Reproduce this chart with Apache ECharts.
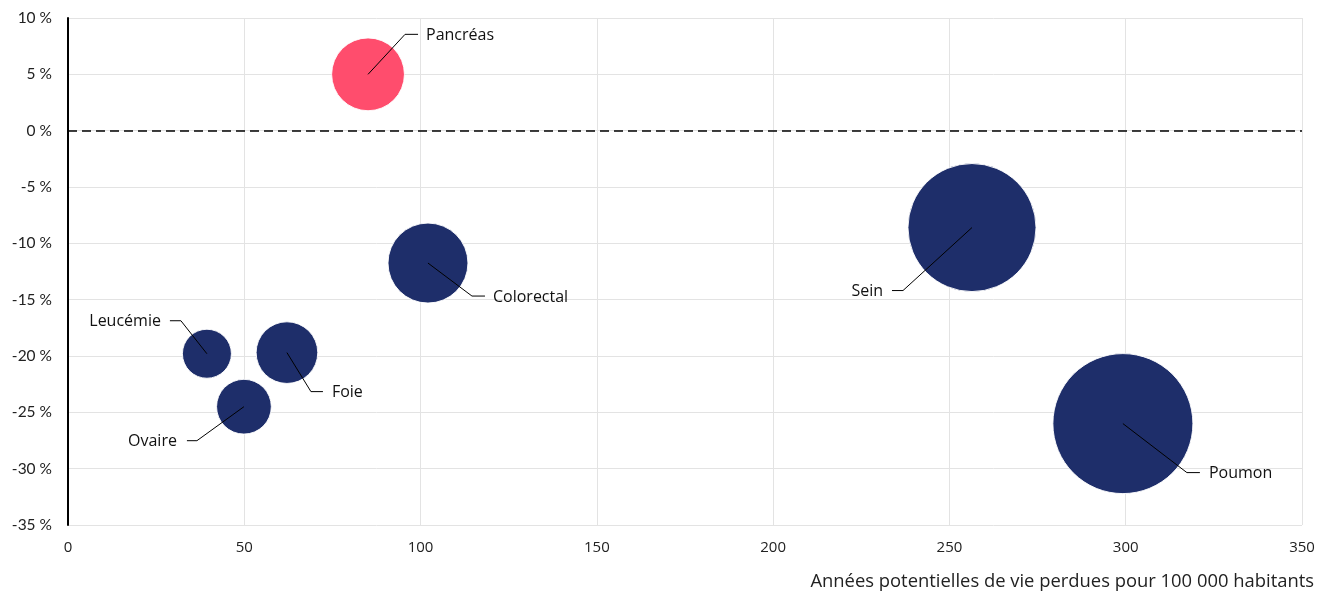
<!DOCTYPE html>
<html><head><meta charset="utf-8">
<script src="https://cdn.jsdelivr.net/npm/echarts@6/dist/echarts.min.js"></script>
<style>html,body{margin:0;padding:0;background:#fff}#c{width:1319px;height:592px}</style>
</head><body><div id="c"></div>
<script>
// Data
const cancers = ['Pancréas','Colorectal','Sein','Poumon','Leucémie','Foie','Ovaire'];
const apvp = [85.1, 102.1, 256.4, 299.2, 39.4, 62.1, 49.9];          // x: années potentielles de vie perdues / 100 000
const variation = [5.0, -11.75, -8.6, -26.0, -19.8, -19.7, -24.5];     // y: variation (%)
const poids = [53, 64, 164, 196, 24, 38, 30];                          // taille relative des bulles
const xTicks = [0, 50, 100, 150, 200, 250, 300, 350];
const yTicks = [10, 5, 0, -5, -10, -15, -20, -25, -30, -35];

// Label leader layout (pixel offsets from bubble centre) – style only
const leader = {
  'Pancréas':  {d:[37,-40], h:[50,-40], t:[58,'left']},
  'Colorectal':{d:[44,33],  h:[57,33],  t:[65,'left']},
  'Sein':      {d:[-69,63], h:[-80,63], t:[-89,'right']},
  'Poumon':    {d:[64,49],  h:[77,49],  t:[86,'left']},
  'Leucémie':  {d:[-26,-33],h:[-37,-33],t:[-46,'right']},
  'Foie':      {d:[24,39],  h:[36,39],  t:[45,'left']},
  'Ovaire':    {d:[-47,34], h:[-57,34], t:[-67,'right']}
};

const OS = '"Open Sans", sans-serif';
const pts = cancers.map((n,i)=>({name:n, value:[apvp[i], variation[i], poids[i]],
  itemStyle:{color: variation[i] > 0 ? '#FF4D6D' : '#1E2E6A'}}));

const chart = echarts.init(document.getElementById('c'));
chart.setOption({
  animation:false,
  title:{text:'Années potentielles de vie perdues pour 100 000 habitants', right:0, top:568,
    textStyle:{fontFamily:OS, fontSize:18.4, fontWeight:'normal', color:'#222'}},
  grid:{left:68, right:17, top:18, bottom:67},
  xAxis:{type:'value', min:xTicks[0], max:xTicks[xTicks.length-1], interval:50,
    axisLine:{show:false}, axisTick:{show:false},
    axisLabel:{fontFamily:OS, fontSize:15, color:'#222', margin:15},
    splitLine:{lineStyle:{color:'#e3e3e3', width:1}}},
  yAxis:{type:'value', min:yTicks[yTicks.length-1], max:yTicks[0], interval:5,
    axisLine:{show:true, onZero:false, lineStyle:{color:'#000', width:2}}, axisTick:{show:false},
    axisLabel:{fontFamily:'Lato, sans-serif', fontSize:15.5, color:'#222', margin:16, formatter: v => v + ' %'},
    splitLine:{lineStyle:{color:'#e3e3e3', width:1}}},
  series:[
    {type:'scatter', data:pts, symbol:'circle',
      symbolSize: v => 10*Math.sqrt(v[2]),
      itemStyle:{borderColor:'rgba(255,255,255,0.9)', borderWidth:1, opacity:1},
      markLine:{silent:true, symbol:'none', label:{show:false},
        lineStyle:{color:'#000', type:[9,5], width:1.5},
        data:[{yAxis:0}]},
      z:2},
    {type:'custom', data: cancers.map((n,i)=>[apvp[i], variation[i], i]),
      encode:{x:0, y:1}, z:5, silent:true,
      renderItem:(params, api)=>{
        const c = api.coord([api.value(0), api.value(1)]);
        const n = cancers[api.value(2)];
        const L = leader[n];
        return {type:'group', children:[
          {type:'polyline', shape:{points:[c,[c[0]+L.d[0],c[1]+L.d[1]],[c[0]+L.h[0],c[1]+L.h[1]]]},
            style:{stroke:'#000', lineWidth:1, fill:null}},
          {type:'text', x:c[0]+L.t[0], y:c[1]+L.d[1]+1,
            style:{text:n, fontFamily:OS, fontSize:16, fill:'#111', align:L.t[1], verticalAlign:'middle'}}
        ]};
      }}
  ]
});
</script></body></html>
